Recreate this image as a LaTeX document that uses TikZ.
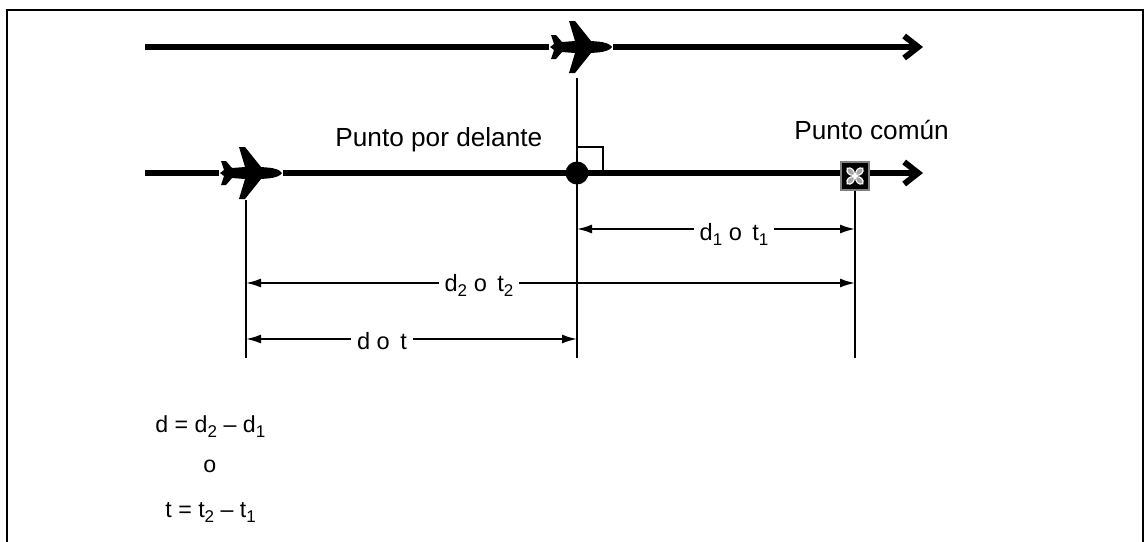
\documentclass[tikz,border=0pt]{standalone}
\usepackage{fontspec}
\setmainfont{Liberation Sans}
\usetikzlibrary{arrows.meta}
\newcommand\sbs[1]{\raisebox{-0.45ex}{\fontsize{8.5}{9}\selectfont #1}}
\begin{document}
\begin{tikzpicture}[x=0.5pt,y=-0.5pt,
  thickline/.style={line width=3pt},
  thickarrow/.style={line width=3pt,-{Straight Barb[length=7pt,width=11pt]}},
  dimline/.style={line width=0.9pt,{Latex[length=7.5pt,width=4.5pt]}-{Latex[length=7.5pt,width=4.5pt]}},
  guide/.style={line width=0.9pt},
  biglabel/.style={font=\fontsize{13.1}{15}\selectfont, inner sep=0pt, anchor=base west},
  dimlabel/.style={font=\fontsize{11.8}{13}\selectfont, fill=white, inner xsep=3pt, inner ysep=1pt, anchor=base},
  formula/.style={font=\fontsize{11.6}{13}\selectfont, inner sep=0pt, anchor=base west},
  planebox/.style={minimum width=32pt, minimum height=26pt, inner sep=0pt},
  airplane/.pic={
    \fill[black] (31,0) .. controls (29,-3) and (24,-5) .. (16,-5.5) -- (10,-6)
      -- (-6,-26) -- (-12,-26) -- (-6,-6) -- (-19,-5) -- (-25,-12) -- (-30,-12)
      -- (-27,-3) -- (-31,0) -- (-27,3) -- (-30,12) -- (-25,12) -- (-19,5)
      -- (-6,6) -- (-12,26) -- (-6,26) -- (10,6) -- (16,5.5)
      .. controls (24,5) and (29,3) .. (31,0) -- cycle;
  },
  commonmark/.pic={
    \foreach \a in {45,135,225,315}{
      \draw[white, line width=0.6pt, fill=gray!70, rotate=\a]
        (1,0) .. controls (4,4) and (9,4) .. (11,0) .. controls (9,-4) and (4,-4) .. (1,0) -- cycle;
    }
  },
]
\useasboundingbox (0,0) rectangle (1145,541);

% frame
\coordinate (f1) at (7,545);
\coordinate (f2) at (7,10);
\coordinate (f3) at (1143,10);
\coordinate (f4) at (1143,545);
\draw[line width=1pt] (f1) -- (f2) -- (f3) -- (f4);

% top track
\coordinate (t0) at (145,47);
\coordinate (t1) at (923,47);
\node[planebox] (pA) at (581,47) {};
\draw[thickline] (t0) -- (pA.west);
\draw[thickarrow] (pA.east) -- (t1);
\pic at (pA) {airplane};

% middle track
\coordinate (m0) at (145,173);
\coordinate (m1) at (923,173);
\node[planebox] (pB) at (251,173) {};
\draw[thickline] (m0) -- (pB.west);
\draw[thickarrow] (pB.east) -- (m1);
\pic at (pB) {airplane};

% vertical guides
\coordinate (vAt) at (577,78);
\coordinate (vAb) at (577,358);
\coordinate (vBt) at (246,200);
\coordinate (vBb) at (246,358);
\coordinate (vCb) at (855,358);
\draw[guide] (vAt) -- (vAb);
\draw[guide] (vBt) -- (vBb);

% right angle
\coordinate (ra1) at (577,147);
\coordinate (ra2) at (603,147);
\coordinate (ra3) at (603,173);
\draw[guide] (ra1) -- (ra2) -- (ra3);

% point ahead
\node[circle, fill=black, minimum size=11.5pt, inner sep=0pt] (dot) at (577,173) {};

% common point
\node[rectangle, fill=black, draw=gray, line width=0.7pt, minimum size=14pt, inner sep=0pt] (cp) at (855,176) {};
\pic at (cp) {commonmark};
\draw[guide] (cp.south) -- (vCb);

% labels
\node[biglabel] (lahead) at (335,146) {Punto por delante};
\node[biglabel] (lcommon) at (794,139) {Punto común};

% dimension lines
\coordinate (d1a) at (577,229);
\coordinate (d1b) at (855,229);
\draw[dimline] (d1a) -- (d1b);
\node[dimlabel] (l1) at (734,240) {d\sbs{1} o\, t\sbs{1}};

\coordinate (d2a) at (246,283);
\coordinate (d2b) at (855,283);
\draw[dimline] (d2a) -- (d2b);
\node[dimlabel] (l2) at (479,291) {d\sbs{2} o\, t\sbs{2}};

\coordinate (d3a) at (246,339);
\coordinate (d3b) at (577,339);
\draw[dimline] (d3a) -- (d3b);
\node[dimlabel] (l3) at (382,349) {d o\, t};

% formulas
\node[formula] (e1) at (155,432) {d = d\sbs{2} – d\sbs{1}};
\node[formula] (e2) at (203,472) {o};
\node[formula] (e3) at (165,517) {t = t\sbs{2} – t\sbs{1}};
\end{tikzpicture}
\end{document}
